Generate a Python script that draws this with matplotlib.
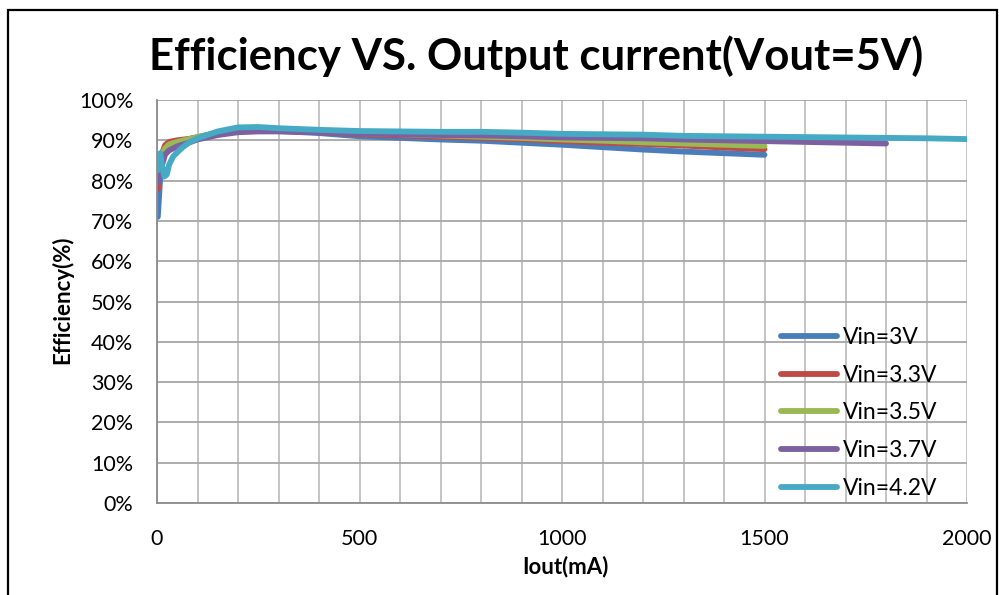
import matplotlib
matplotlib.use("Agg")
import matplotlib.pyplot as plt
from matplotlib.patches import Rectangle
from matplotlib.ticker import MultipleLocator, FuncFormatter

plt.rcParams['font.family'] = ['Lato', 'DejaVu Sans']

labels = ["Vin=3V", "Vin=3.3V", "Vin=3.5V", "Vin=3.7V", "Vin=4.2V"]
colors = ["#4a7ebb", "#be4b48", "#98b954", "#7d60a0", "#46aac5"]

x_3v = [2, 5, 10, 15, 20, 30, 50, 75, 100, 150, 200, 250, 300, 400, 500, 600, 700, 800,
        900, 1000, 1100, 1200, 1300, 1400, 1500]
y_3v = [71, 76, 84, 87, 88, 88.8, 89.5, 90.2, 90.8, 91.9, 92.4, 92.4, 92.3, 91.8, 91.0,
        90.6, 90.2, 89.9, 89.4, 88.9, 88.3, 87.7, 87.2, 86.8, 86.4]

x_33v = [3, 5, 10, 20, 30, 50, 75, 100, 150, 200, 250, 300, 400, 500, 600, 700, 800,
         900, 1000, 1100, 1200, 1300, 1400, 1500]
y_33v = [78, 82, 86, 88.8, 89.6, 90.0, 90.3, 90.6, 91.6, 92.3, 92.5, 92.4, 92.0, 91.5,
         91.2, 90.9, 90.6, 90.3, 89.8, 89.4, 89.1, 88.7, 88.2, 87.8]

x_35v = [3, 5, 10, 20, 30, 50, 75, 100, 150, 200, 250, 300, 400, 500, 600, 700, 800,
         900, 1000, 1100, 1200, 1300, 1400, 1500]
y_35v = [80, 83, 86, 88, 89, 89.6, 90.2, 90.8, 91.8, 92.5, 92.7, 92.6, 92.2, 91.8, 91.5,
         91.2, 90.9, 90.6, 90.2, 89.9, 89.5, 89.2, 88.9, 88.6]

x_37v = [3, 5, 10, 20, 30, 50, 75, 100, 150, 200, 250, 300, 400, 500, 600, 700, 800,
         900, 1000, 1100, 1200, 1300, 1400, 1500, 1600, 1700, 1800]
y_37v = [79.5, 81, 83, 86.5, 87.5, 88.5, 89.3, 90.2, 91.3, 92.0, 92.2, 92.2, 92.0, 91.7,
         91.5, 91.3, 91.2, 91.0, 90.7, 90.6, 90.5, 90.2, 90.0, 89.8, 89.6, 89.4, 89.2]

x_42v = [1, 4, 8, 12, 18, 24, 30, 40, 60, 80, 100, 150, 200, 250, 300, 400, 500, 600,
         700, 800, 900, 1000, 1100, 1200, 1300, 1400, 1500, 1600, 1700, 1800, 1900, 2000]
y_42v = [82.5, 86.5, 86.8, 84, 81, 81.5, 84, 86, 88, 89.5, 90.5, 92.2, 93.2, 93.3, 93.0,
         92.6, 92.3, 92.2, 92.1, 92.1, 91.9, 91.6, 91.5, 91.4, 91.1, 91.0, 90.9, 90.8,
         90.7, 90.6, 90.5, 90.3]

series_x = [x_3v, x_33v, x_35v, x_37v, x_42v]
series_y = [y_3v, y_33v, y_35v, y_37v, y_42v]

W, H = 999, 595
fig = plt.figure(figsize=(W / 100, H / 100), dpi=100)
ax = fig.add_axes([157 / W, 1 - 503 / H, (967 - 157) / W, (503 - 100) / H])

for xs, ys, c, lab in zip(series_x, series_y, colors, labels):
    ax.plot(xs, ys, color=c, lw=4.2, label=lab, solid_capstyle='round',
            solid_joinstyle='round')

ax.set_xlim(0, 2000)
ax.set_ylim(0, 100)
ax.xaxis.set_major_locator(MultipleLocator(500))
ax.xaxis.set_minor_locator(MultipleLocator(100))
ax.yaxis.set_major_locator(MultipleLocator(10))
ax.yaxis.set_major_formatter(FuncFormatter(lambda v, p: f"{int(round(v))}%"))

ax.grid(which='major', axis='y', color='#a6a6a6', lw=1.3)
ax.grid(which='both', axis='x', color='#bfbfbf', lw=1.3)
ax.set_axisbelow(True)
for s in ['top', 'right']:
    ax.spines[s].set_visible(False)
for s in ['left', 'bottom']:
    ax.spines[s].set_color('#8c8c8c')
    ax.spines[s].set_linewidth(1.3)

ax.tick_params(axis='both', which='both', length=0, labelsize=15.5, pad=17)
ax.tick_params(axis='x', pad=19)

fig.text(536 / W, 1 - 70 / H, "Efficiency VS. Output current(Vout=5V)", ha='center',
         va='baseline', fontsize=31.5, fontweight='bold')
fig.text(565 / W, 1 - 567 / H, "Iout(mA)", ha='center', va='center', fontsize=16,
         fontweight='bold')
fig.text(62 / W, 1 - 300 / H, "Efficiency(%)", ha='center', va='center', fontsize=16,
         fontweight='bold', rotation=90)

leg = ax.legend(loc='upper left', bbox_to_anchor=(781 / W, 1 - 327 / H),
                bbox_transform=fig.transFigure, frameon=False, fontsize=16.5,
                handlelength=2.45, handletextpad=0.25, labelspacing=0.73,
                borderpad=0, borderaxespad=0)

fig.patches.append(Rectangle((8 / W, -0.1), (997 - 8) / W, 1.1 - 10 / H,
                             transform=fig.transFigure, fill=False, edgecolor='black',
                             lw=1.6, figure=fig))

fig.savefig("out.png", dpi=100)
